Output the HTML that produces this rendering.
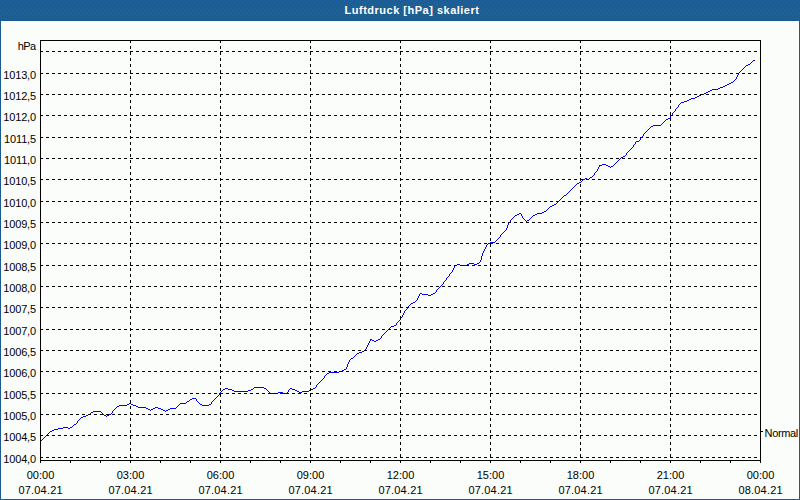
<!DOCTYPE html>
<html><head><meta charset="utf-8"><style>
html,body{margin:0;padding:0;}
body{width:800px;height:500px;overflow:hidden;position:relative;background:#fbfdfb;font-family:"Liberation Sans",sans-serif;}
#bar{position:absolute;left:0;top:0;width:800px;height:20px;background:linear-gradient(#1e5e95,#20619b);border-bottom:1px solid #185990;}
#hl{position:absolute;left:1px;top:21px;width:796px;height:476px;border:1px solid #fff;}
#bl{position:absolute;left:0;top:20px;width:1px;height:480px;background:#195a8f;}
#br{position:absolute;left:799px;top:20px;width:1px;height:480px;background:#195a8f;}
#bb{position:absolute;left:0;top:499px;width:800px;height:1px;background:#195a8f;}
#title{position:absolute;left:0;top:0;width:800px;height:20px;}
svg{position:absolute;left:0;top:0;}
.g{stroke:#000;stroke-width:1;stroke-dasharray:3 3;shape-rendering:crispEdges;}
.a{stroke:#000;stroke-width:1;fill:none;shape-rendering:crispEdges;}
.d{stroke:#0000ff;stroke-width:1;fill:none;shape-rendering:crispEdges;}
text{font-size:11px;fill:#000;}
.ly{letter-spacing:-0.15px;}
.ld{letter-spacing:0.2px;}
.t{font-weight:bold;fill:#fff;letter-spacing:0.5px;}
</style></head><body>
<div id="bar"></div><div id="bl"></div><div id="br"></div><div id="bb"></div><div id="hl"></div>
<svg width="800" height="500" viewBox="0 0 800 500">
<defs><pattern id="dp" width="8" height="20" patternUnits="userSpaceOnUse"><path d="M0 0h1v1h-1zM4 1h1v1h-1zM2 2h1v1h-1zM7 2h1v1h-1zM3 4h1v1h-1zM0 5h1v1h-1zM5 5h1v1h-1zM3 7h1v1h-1zM7 8h1v1h-1zM1 9h1v1h-1zM5 9h1v1h-1zM0 11h1v1h-1zM4 11h1v1h-1zM2 13h1v1h-1zM6 13h1v1h-1zM1 15h1v1h-1zM5 15h1v1h-1zM0 17h1v1h-1zM4 17h1v1h-1zM2 19h1v1h-1zM6 19h1v1h-1z" fill="#2364ac"/></pattern></defs><rect x="0" y="0" width="800" height="20" fill="#1d5e92"/><rect x="0" y="0" width="800" height="20" fill="url(#dp)" shape-rendering="crispEdges"/>
<text class="t" x="412" y="14" text-anchor="middle">Luftdruck [hPa] skaliert</text>
<path d="M753 60h2v1h-2zM752 61h1v1h-1zM751 62h1v1h-1zM750 63h1v1h-1zM748 64h2v1h-2zM746 65h2v1h-2zM745 66h1v1h-1zM744 67h1v1h-1zM743 68h1v1h-1zM742 69h1v1h-1zM741 70h1v1h-1zM740 71h1v1h-1zM739 72h1v1h-1zM738 73h1v1h-1zM738 74h1v1h-1zM737 75h1v1h-1zM737 76h1v1h-1zM736 77h1v1h-1zM736 78h1v1h-1zM735 79h1v1h-1zM734 80h1v1h-1zM733 81h1v1h-1zM731 82h2v1h-2zM729 83h2v1h-2zM727 84h2v1h-2zM725 85h2v1h-2zM723 86h2v1h-2zM720 87h3v1h-3zM718 88h2v1h-2zM712 89h6v1h-6zM710 90h2v1h-2zM708 91h2v1h-2zM706 92h2v1h-2zM704 93h2v1h-2zM701 94h3v1h-3zM699 95h2v1h-2zM697 96h2v1h-2zM695 97h2v1h-2zM691 98h4v1h-4zM689 99h2v1h-2zM687 100h2v1h-2zM684 101h3v1h-3zM681 102h3v1h-3zM680 103h1v1h-1zM679 104h1v1h-1zM678 105h1v1h-1zM678 106h1v1h-1zM677 107h1v1h-1zM676 108h1v1h-1zM675 109h1v1h-1zM675 110h1v1h-1zM674 111h1v1h-1zM673 112h1v1h-1zM672 113h1v1h-1zM672 114h1v1h-1zM671 115h1v1h-1zM670 116h1v1h-1zM670 117h1v1h-1zM668 118h2v1h-2zM666 119h2v1h-2zM665 120h1v1h-1zM664 121h1v1h-1zM663 122h1v1h-1zM662 123h1v1h-1zM661 124h1v1h-1zM653 125h8v1h-8zM651 126h2v1h-2zM650 127h1v1h-1zM649 128h1v1h-1zM648 129h1v1h-1zM647 130h1v1h-1zM646 131h1v1h-1zM645 132h1v1h-1zM644 133h1v1h-1zM643 134h1v1h-1zM643 135h1v1h-1zM642 136h1v1h-1zM641 137h1v1h-1zM640 138h1v1h-1zM640 139h1v1h-1zM639 140h1v1h-1zM636 141h3v1h-3zM635 142h1v1h-1zM635 143h1v1h-1zM634 144h1v1h-1zM633 145h1v1h-1zM633 146h1v1h-1zM632 147h1v1h-1zM631 148h1v1h-1zM630 149h1v1h-1zM629 150h1v1h-1zM628 151h1v1h-1zM627 152h1v1h-1zM626 153h1v1h-1zM626 154h1v1h-1zM625 155h1v1h-1zM623 156h2v1h-2zM621 157h2v1h-2zM620 158h1v1h-1zM619 159h1v1h-1zM618 160h1v1h-1zM617 161h1v1h-1zM616 162h1v1h-1zM615 163h1v1h-1zM602 164h4v1h-4zM614 164h1v1h-1zM599 165h3v1h-3zM606 165h2v1h-2zM613 165h1v1h-1zM599 166h1v1h-1zM608 166h2v1h-2zM611 166h2v1h-2zM598 167h1v1h-1zM610 167h1v1h-1zM598 168h1v1h-1zM597 169h1v1h-1zM597 170h1v1h-1zM596 171h1v1h-1zM595 172h1v1h-1zM594 173h1v1h-1zM594 174h1v1h-1zM593 175h1v1h-1zM592 176h1v1h-1zM590 177h2v1h-2zM585 178h2v1h-2zM589 178h1v1h-1zM583 179h2v1h-2zM587 179h2v1h-2zM582 180h1v1h-1zM581 181h1v1h-1zM579 182h2v1h-2zM577 183h2v1h-2zM576 184h1v1h-1zM575 185h1v1h-1zM574 186h1v1h-1zM573 187h1v1h-1zM572 188h1v1h-1zM571 189h1v1h-1zM570 190h1v1h-1zM569 191h1v1h-1zM568 192h1v1h-1zM567 193h1v1h-1zM566 194h1v1h-1zM564 195h2v1h-2zM563 196h1v1h-1zM562 197h1v1h-1zM561 198h1v1h-1zM560 199h1v1h-1zM559 200h1v1h-1zM558 201h1v1h-1zM557 202h1v1h-1zM556 203h1v1h-1zM554 204h2v1h-2zM552 205h2v1h-2zM550 206h2v1h-2zM549 207h1v1h-1zM548 208h1v1h-1zM547 209h1v1h-1zM546 210h1v1h-1zM544 211h2v1h-2zM542 212h2v1h-2zM519 213h2v1h-2zM537 213h5v1h-5zM517 214h2v1h-2zM521 214h1v1h-1zM535 214h2v1h-2zM515 215h2v1h-2zM521 215h1v1h-1zM533 215h2v1h-2zM514 216h1v1h-1zM522 216h1v1h-1zM532 216h1v1h-1zM513 217h1v1h-1zM522 217h1v1h-1zM531 217h1v1h-1zM512 218h1v1h-1zM523 218h1v1h-1zM530 218h1v1h-1zM511 219h1v1h-1zM524 219h1v1h-1zM529 219h1v1h-1zM510 220h1v1h-1zM525 220h1v1h-1zM527 220h2v1h-2zM510 221h1v1h-1zM526 221h1v1h-1zM509 222h1v1h-1zM508 223h1v1h-1zM508 224h1v1h-1zM507 225h1v1h-1zM507 226h1v1h-1zM507 227h1v1h-1zM506 228h1v1h-1zM506 229h1v1h-1zM505 230h1v1h-1zM504 231h1v1h-1zM503 232h1v1h-1zM502 233h1v1h-1zM501 234h1v1h-1zM500 235h1v1h-1zM500 236h1v1h-1zM499 237h1v1h-1zM498 238h1v1h-1zM497 239h1v1h-1zM496 240h1v1h-1zM495 241h1v1h-1zM490 242h5v1h-5zM488 243h2v1h-2zM487 244h1v1h-1zM486 245h1v1h-1zM486 246h1v1h-1zM485 247h1v1h-1zM485 248h1v1h-1zM484 249h1v1h-1zM484 250h1v1h-1zM483 251h1v1h-1zM483 252h1v1h-1zM482 253h1v1h-1zM482 254h1v1h-1zM482 255h1v1h-1zM481 256h1v1h-1zM481 257h1v1h-1zM481 258h1v1h-1zM481 259h1v1h-1zM480 260h1v1h-1zM480 261h1v1h-1zM479 262h1v1h-1zM469 263h5v1h-5zM477 263h2v1h-2zM457 264h3v1h-3zM467 264h2v1h-2zM474 264h3v1h-3zM455 265h2v1h-2zM460 265h7v1h-7zM454 266h1v1h-1zM454 267h1v1h-1zM453 268h1v1h-1zM453 269h1v1h-1zM452 270h1v1h-1zM452 271h1v1h-1zM451 272h1v1h-1zM450 273h1v1h-1zM449 274h1v1h-1zM449 275h1v1h-1zM448 276h1v1h-1zM447 277h1v1h-1zM446 278h1v1h-1zM446 279h1v1h-1zM445 280h1v1h-1zM444 281h1v1h-1zM443 282h1v1h-1zM443 283h1v1h-1zM442 284h1v1h-1zM441 285h1v1h-1zM440 286h1v1h-1zM439 287h1v1h-1zM438 288h1v1h-1zM437 289h1v1h-1zM436 290h1v1h-1zM436 291h1v1h-1zM435 292h1v1h-1zM420 293h2v1h-2zM433 293h2v1h-2zM419 294h1v1h-1zM422 294h6v1h-6zM431 294h2v1h-2zM419 295h1v1h-1zM428 295h3v1h-3zM418 296h1v1h-1zM418 297h1v1h-1zM417 298h1v1h-1zM417 299h1v1h-1zM416 300h1v1h-1zM415 301h1v1h-1zM413 302h2v1h-2zM411 303h2v1h-2zM410 304h1v1h-1zM409 305h1v1h-1zM408 306h1v1h-1zM407 307h1v1h-1zM407 308h1v1h-1zM406 309h1v1h-1zM405 310h1v1h-1zM404 311h1v1h-1zM404 312h1v1h-1zM403 313h1v1h-1zM403 314h1v1h-1zM402 315h1v1h-1zM402 316h1v1h-1zM401 317h1v1h-1zM400 318h1v1h-1zM400 319h1v1h-1zM399 320h1v1h-1zM398 321h1v1h-1zM397 322h1v1h-1zM396 323h1v1h-1zM396 324h1v1h-1zM394 325h2v1h-2zM391 326h3v1h-3zM390 327h1v1h-1zM389 328h1v1h-1zM388 329h1v1h-1zM387 330h1v1h-1zM386 331h1v1h-1zM385 332h1v1h-1zM384 333h1v1h-1zM383 334h1v1h-1zM382 335h1v1h-1zM381 336h1v1h-1zM381 337h1v1h-1zM380 338h1v1h-1zM370 339h2v1h-2zM378 339h2v1h-2zM370 340h1v1h-1zM372 340h2v1h-2zM376 340h2v1h-2zM369 341h1v1h-1zM374 341h2v1h-2zM369 342h1v1h-1zM368 343h1v1h-1zM368 344h1v1h-1zM367 345h1v1h-1zM367 346h1v1h-1zM366 347h1v1h-1zM366 348h1v1h-1zM365 349h1v1h-1zM364 350h2v1h-2zM362 351h2v1h-2zM359 352h3v1h-3zM357 353h2v1h-2zM356 354h1v1h-1zM355 355h1v1h-1zM354 356h1v1h-1zM353 357h1v1h-1zM351 358h2v1h-2zM350 359h1v1h-1zM349 360h1v1h-1zM349 361h1v1h-1zM348 362h1v1h-1zM348 363h1v1h-1zM347 364h1v1h-1zM347 365h1v1h-1zM347 366h1v1h-1zM346 367h1v1h-1zM346 368h1v1h-1zM344 369h2v1h-2zM342 370h2v1h-2zM339 371h3v1h-3zM329 372h10v1h-10zM327 373h2v1h-2zM326 374h1v1h-1zM325 375h1v1h-1zM324 376h1v1h-1zM324 377h1v1h-1zM323 378h1v1h-1zM322 379h1v1h-1zM321 380h1v1h-1zM320 381h1v1h-1zM319 382h1v1h-1zM318 383h1v1h-1zM317 384h1v1h-1zM316 385h1v1h-1zM316 386h1v1h-1zM254 387h10v1h-10zM315 387h1v1h-1zM225 388h3v1h-3zM253 388h1v1h-1zM264 388h2v1h-2zM290 388h2v1h-2zM313 388h2v1h-2zM223 389h2v1h-2zM228 389h4v1h-4zM251 389h2v1h-2zM266 389h1v1h-1zM289 389h1v1h-1zM292 389h3v1h-3zM311 389h2v1h-2zM222 390h1v1h-1zM232 390h2v1h-2zM248 390h3v1h-3zM267 390h1v1h-1zM288 390h1v1h-1zM295 390h2v1h-2zM309 390h2v1h-2zM221 391h1v1h-1zM234 391h14v1h-14zM268 391h1v1h-1zM288 391h1v1h-1zM297 391h2v1h-2zM302 391h7v1h-7zM220 392h1v1h-1zM269 392h1v1h-1zM278 392h5v1h-5zM287 392h1v1h-1zM299 392h3v1h-3zM219 393h1v1h-1zM270 393h8v1h-8zM283 393h4v1h-4zM219 394h1v1h-1zM218 395h1v1h-1zM217 396h1v1h-1zM216 397h1v1h-1zM192 398h4v1h-4zM215 398h1v1h-1zM190 399h2v1h-2zM196 399h1v1h-1zM214 399h1v1h-1zM189 400h1v1h-1zM196 400h1v1h-1zM213 400h1v1h-1zM187 401h2v1h-2zM197 401h1v1h-1zM212 401h1v1h-1zM186 402h1v1h-1zM198 402h1v1h-1zM211 402h1v1h-1zM129 403h2v1h-2zM180 403h6v1h-6zM199 403h1v1h-1zM211 403h1v1h-1zM127 404h2v1h-2zM131 404h2v1h-2zM179 404h1v1h-1zM200 404h2v1h-2zM209 404h2v1h-2zM119 405h8v1h-8zM133 405h3v1h-3zM178 405h1v1h-1zM202 405h7v1h-7zM117 406h2v1h-2zM136 406h2v1h-2zM177 406h1v1h-1zM116 407h1v1h-1zM138 407h8v1h-8zM155 407h3v1h-3zM176 407h1v1h-1zM115 408h1v1h-1zM146 408h2v1h-2zM153 408h2v1h-2zM158 408h3v1h-3zM170 408h6v1h-6zM114 409h1v1h-1zM148 409h2v1h-2zM151 409h2v1h-2zM161 409h2v1h-2zM168 409h2v1h-2zM113 410h1v1h-1zM150 410h1v1h-1zM163 410h2v1h-2zM166 410h2v1h-2zM93 411h8v1h-8zM112 411h1v1h-1zM165 411h1v1h-1zM91 412h2v1h-2zM101 412h1v1h-1zM112 412h1v1h-1zM90 413h1v1h-1zM102 413h1v1h-1zM111 413h1v1h-1zM88 414h2v1h-2zM103 414h1v1h-1zM109 414h2v1h-2zM86 415h2v1h-2zM104 415h2v1h-2zM107 415h2v1h-2zM83 416h3v1h-3zM106 416h1v1h-1zM81 417h2v1h-2zM80 418h1v1h-1zM79 419h1v1h-1zM78 420h1v1h-1zM77 421h1v1h-1zM77 422h1v1h-1zM76 423h1v1h-1zM74 424h2v1h-2zM73 425h1v1h-1zM72 426h1v1h-1zM63 427h5v1h-5zM70 427h2v1h-2zM58 428h5v1h-5zM68 428h2v1h-2zM54 429h4v1h-4zM52 430h2v1h-2zM50 431h2v1h-2zM49 432h1v1h-1zM48 433h1v1h-1zM47 434h1v1h-1zM46 435h1v1h-1zM45 436h1v1h-1zM44 437h1v1h-1zM43 438h1v1h-1zM42 439h1v1h-1zM41 440h1v1h-1zM40 441h1v1h-1z" fill="#0000ff" shape-rendering="crispEdges"/>
<line x1="40" y1="51.5" x2="760" y2="51.5" class="g"/>
<line x1="40" y1="73.5" x2="760" y2="73.5" class="g"/>
<line x1="40" y1="94.5" x2="760" y2="94.5" class="g"/>
<line x1="40" y1="115.5" x2="760" y2="115.5" class="g"/>
<line x1="40" y1="137.5" x2="760" y2="137.5" class="g"/>
<line x1="40" y1="158.5" x2="760" y2="158.5" class="g"/>
<line x1="40" y1="179.5" x2="760" y2="179.5" class="g"/>
<line x1="40" y1="201.5" x2="760" y2="201.5" class="g"/>
<line x1="40" y1="222.5" x2="760" y2="222.5" class="g"/>
<line x1="40" y1="243.5" x2="760" y2="243.5" class="g"/>
<line x1="40" y1="265.5" x2="760" y2="265.5" class="g"/>
<line x1="40" y1="286.5" x2="760" y2="286.5" class="g"/>
<line x1="40" y1="307.5" x2="760" y2="307.5" class="g"/>
<line x1="40" y1="329.5" x2="760" y2="329.5" class="g"/>
<line x1="40" y1="350.5" x2="760" y2="350.5" class="g"/>
<line x1="40" y1="371.5" x2="760" y2="371.5" class="g"/>
<line x1="40" y1="393.5" x2="760" y2="393.5" class="g"/>
<line x1="40" y1="414.5" x2="760" y2="414.5" class="g"/>
<line x1="40" y1="435.5" x2="760" y2="435.5" class="g"/>
<line x1="40" y1="457.5" x2="760" y2="457.5" class="g"/>
<line x1="130.5" y1="40" x2="130.5" y2="460" class="g"/>
<line x1="220.5" y1="40" x2="220.5" y2="460" class="g"/>
<line x1="310.5" y1="40" x2="310.5" y2="460" class="g"/>
<line x1="400.5" y1="40" x2="400.5" y2="460" class="g"/>
<line x1="490.5" y1="40" x2="490.5" y2="460" class="g"/>
<line x1="580.5" y1="40" x2="580.5" y2="460" class="g"/>
<line x1="670.5" y1="40" x2="670.5" y2="460" class="g"/>
<path d="M40.5 40.5H760.5V460.5H40.5Z" class="a"/>
<line x1="40.5" y1="460" x2="40.5" y2="463" class="a"/>
<line x1="70.5" y1="460" x2="70.5" y2="463" class="a"/>
<line x1="100.5" y1="460" x2="100.5" y2="463" class="a"/>
<line x1="130.5" y1="460" x2="130.5" y2="463" class="a"/>
<line x1="160.5" y1="460" x2="160.5" y2="463" class="a"/>
<line x1="190.5" y1="460" x2="190.5" y2="463" class="a"/>
<line x1="220.5" y1="460" x2="220.5" y2="463" class="a"/>
<line x1="250.5" y1="460" x2="250.5" y2="463" class="a"/>
<line x1="280.5" y1="460" x2="280.5" y2="463" class="a"/>
<line x1="310.5" y1="460" x2="310.5" y2="463" class="a"/>
<line x1="340.5" y1="460" x2="340.5" y2="463" class="a"/>
<line x1="370.5" y1="460" x2="370.5" y2="463" class="a"/>
<line x1="400.5" y1="460" x2="400.5" y2="463" class="a"/>
<line x1="430.5" y1="460" x2="430.5" y2="463" class="a"/>
<line x1="460.5" y1="460" x2="460.5" y2="463" class="a"/>
<line x1="490.5" y1="460" x2="490.5" y2="463" class="a"/>
<line x1="520.5" y1="460" x2="520.5" y2="463" class="a"/>
<line x1="550.5" y1="460" x2="550.5" y2="463" class="a"/>
<line x1="580.5" y1="460" x2="580.5" y2="463" class="a"/>
<line x1="610.5" y1="460" x2="610.5" y2="463" class="a"/>
<line x1="640.5" y1="460" x2="640.5" y2="463" class="a"/>
<line x1="670.5" y1="460" x2="670.5" y2="463" class="a"/>
<line x1="700.5" y1="460" x2="700.5" y2="463" class="a"/>
<line x1="730.5" y1="460" x2="730.5" y2="463" class="a"/>
<line x1="760.5" y1="460" x2="760.5" y2="463" class="a"/>
<line x1="760" y1="431.5" x2="763" y2="431.5" class="a"/>
<text class="ly" x="36" y="79" text-anchor="end">1013,0</text>
<text class="ly" x="36" y="100" text-anchor="end">1012,5</text>
<text class="ly" x="36" y="121" text-anchor="end">1012,0</text>
<text class="ly" x="36" y="143" text-anchor="end">1011,5</text>
<text class="ly" x="36" y="164" text-anchor="end">1011,0</text>
<text class="ly" x="36" y="185" text-anchor="end">1010,5</text>
<text class="ly" x="36" y="207" text-anchor="end">1010,0</text>
<text class="ly" x="36" y="228" text-anchor="end">1009,5</text>
<text class="ly" x="36" y="249" text-anchor="end">1009,0</text>
<text class="ly" x="36" y="271" text-anchor="end">1008,5</text>
<text class="ly" x="36" y="292" text-anchor="end">1008,0</text>
<text class="ly" x="36" y="313" text-anchor="end">1007,5</text>
<text class="ly" x="36" y="335" text-anchor="end">1007,0</text>
<text class="ly" x="36" y="356" text-anchor="end">1006,5</text>
<text class="ly" x="36" y="377" text-anchor="end">1006,0</text>
<text class="ly" x="36" y="399" text-anchor="end">1005,5</text>
<text class="ly" x="36" y="420" text-anchor="end">1005,0</text>
<text class="ly" x="36" y="441" text-anchor="end">1004,5</text>
<text class="ly" x="36" y="463" text-anchor="end">1004,0</text>
<text x="35.6" y="50" text-anchor="end" style="letter-spacing:-0.6px">hPa</text>
<text x="40.5" y="479" text-anchor="middle">00:00</text>
<text class="ld" x="40.6" y="494" text-anchor="middle">07.04.21</text>
<text x="130.5" y="479" text-anchor="middle">03:00</text>
<text class="ld" x="130.6" y="494" text-anchor="middle">07.04.21</text>
<text x="220.5" y="479" text-anchor="middle">06:00</text>
<text class="ld" x="220.6" y="494" text-anchor="middle">07.04.21</text>
<text x="310.5" y="479" text-anchor="middle">09:00</text>
<text class="ld" x="310.6" y="494" text-anchor="middle">07.04.21</text>
<text x="400.5" y="479" text-anchor="middle">12:00</text>
<text class="ld" x="400.6" y="494" text-anchor="middle">07.04.21</text>
<text x="490.5" y="479" text-anchor="middle">15:00</text>
<text class="ld" x="490.6" y="494" text-anchor="middle">07.04.21</text>
<text x="580.5" y="479" text-anchor="middle">18:00</text>
<text class="ld" x="580.6" y="494" text-anchor="middle">07.04.21</text>
<text x="670.5" y="479" text-anchor="middle">21:00</text>
<text class="ld" x="670.6" y="494" text-anchor="middle">07.04.21</text>
<text x="760.5" y="479" text-anchor="middle">00:00</text>
<text class="ld" x="760.6" y="494" text-anchor="middle">08.04.21</text>
<text x="764.6" y="437" style="letter-spacing:-0.35px">Normal</text>
</svg>
</body></html>
